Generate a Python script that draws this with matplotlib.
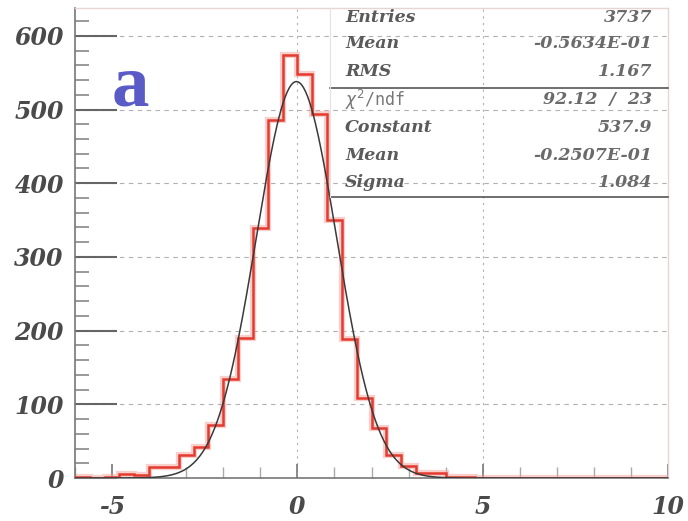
import matplotlib
matplotlib.use("Agg")
import matplotlib.pyplot as plt
import numpy as np
from matplotlib.ticker import MultipleLocator

# histogram: 40 bins of 0.4 from -6 to 10
bin_edges = np.arange(-6.0, 10.0001, 0.4)
counts = [2, 0, 1, 6, 4, 15, 15, 31, 42, 72, 134, 190, 339, 486, 574,
          548, 494, 350, 189, 108, 68, 31, 16, 7, 7, 2, 1, 0, 0, 0,
          0, 0, 0, 0, 0, 0, 0, 0, 0, 0]

# gaussian fit parameters (from the stats box)
fit_const = 537.9
fit_mean = -0.2507e-01
fit_sigma = 1.084

stat_labels = ["Entries", "Mean", "RMS", "chi2", "Constant", "Mean", "Sigma"]
stat_values = ["3737", "-0.5634E-01", "1.167", "92.12  /  23", "537.9", "-0.2507E-01", "1.084"]

x_ticks = [-5, 0, 5, 10]
y_ticks = [0, 100, 200, 300, 400, 500, 600]

fig = plt.figure(figsize=(6.88, 5.21), dpi=100)
ax = fig.add_axes([0.109, 0.0825, 0.862, 0.9025])
ax.set_xlim(-6, 10)
ax.set_ylim(0, 638)

# grid
for yv in y_ticks[1:]:
    ax.axhline(yv, color="#b0b0b0", lw=0.8, ls=(0, (4, 4)), zorder=0)
for xv in [0, 5]:
    ax.axvline(xv, color="#b0b0b0", lw=0.8, ls=(0, (2, 4)), zorder=0)

# histogram (with soft halo like the scanned original)
ax.stairs(counts, bin_edges, color="#f4a09a", lw=4.5, alpha=0.5, zorder=2)
ax.stairs(counts, bin_edges, color="#e53a30", lw=1.8, zorder=3)

xs = np.linspace(-6, 10, 600)
ax.plot(xs, fit_const * np.exp(-0.5 * ((xs - fit_mean) / fit_sigma) ** 2),
        color="#3a3a3a", lw=1.1, zorder=4)

# axes styling (ROOT-like inward ticks)
for side in ["top", "right"]:
    ax.spines[side].set_color("#e6d6d2")
    ax.spines[side].set_linewidth(1.0)
for side in ["left", "bottom"]:
    ax.spines[side].set_color("#777777")
    ax.spines[side].set_linewidth(1.2)

ax.set_xticks(x_ticks)
ax.set_yticks(y_ticks)
ax.xaxis.set_minor_locator(MultipleLocator(1))
ax.yaxis.set_minor_locator(MultipleLocator(20))
ax.tick_params(axis="y", which="minor", direction="in", length=10, width=1.2, color="#888888")
ax.tick_params(axis="x", which="minor", direction="in", length=8, width=1.0, color="#aaaaaa")
ax.tick_params(axis="x", which="major", direction="in", length=10, width=1.2,
               color="#777777", pad=12)
ax.tick_params(axis="y", which="major", direction="in", length=30, width=1.5,
               color="#666666", pad=8)
tick_font = {"family": "DejaVu Serif", "style": "italic", "weight": "bold", "size": 17}
ax.set_xticklabels([str(t) for t in x_ticks], fontdict=tick_font, color="#4a4a4a")
ax.set_yticklabels([str(t) for t in y_ticks], fontdict=tick_font, color="#4a4a4a")

# panel letter
ax.text(-5.0, 505, "a", fontsize=54, family="Liberation Serif", weight="bold",
        color="#5b5bc8", ha="left", va="baseline")

# stats box
bx0 = (330 - 75) / (668 - 75)
ax.plot([bx0, 1], [(478 - 88) / 470, (478 - 88) / 470], transform=ax.transAxes,
        color="#555555", lw=1.2, zorder=5, clip_on=False)
ax.plot([bx0, 1], [(478 - 197) / 470, (478 - 197) / 470], transform=ax.transAxes,
        color="#555555", lw=1.2, zorder=5, clip_on=False)
ax.plot([bx0, bx0], [(478 - 197) / 470, 1], transform=ax.transAxes,
        color="#e8e0de", lw=0.8, zorder=5, clip_on=False)

row_px = [18, 44, 72, 100, 128, 156, 183]
for lab, val, ypx in zip(stat_labels, stat_values, row_px):
    yy = (478 - ypx) / 470
    if lab == "chi2":
        ax.text((345 - 75) / 593, yy, r"$\chi^2$/ndf", transform=ax.transAxes,
                fontsize=12, family="DejaVu Sans Mono", color="#777777", va="center")
    else:
        ax.text((345 - 75) / 593, yy, lab, transform=ax.transAxes, fontsize=12.5,
                family="DejaVu Serif", style="italic", weight="bold",
                color="#5a5a5a", va="center")
    ax.text((652 - 75) / 593, yy, val, transform=ax.transAxes, fontsize=12.5,
            family="DejaVu Serif", style="italic", weight="bold",
            color="#6a6a6a", va="center", ha="right")

fig.savefig("out.png", dpi=100)
